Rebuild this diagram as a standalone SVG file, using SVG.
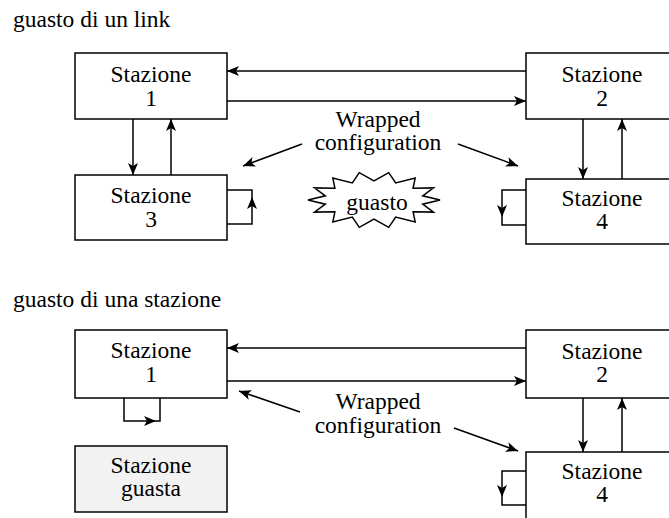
<svg xmlns="http://www.w3.org/2000/svg" width="669" height="518" viewBox="0 0 669 518">
<defs>
  <marker id="ah" viewBox="0 0 12 10" refX="12" refY="5" markerWidth="12" markerHeight="10" markerUnits="userSpaceOnUse" orient="auto">
    <path d="M0,0 L12,5 L0,10 L3,5 z" fill="#000"/>
  </marker>
</defs>

<rect width="669" height="518" fill="#fff"/>

<g font-family="Liberation Serif, Times New Roman, serif" font-size="23.5" fill="#000">
<text x="13" y="27">guasto di un link</text>
<text x="13" y="307">guasto di una stazione</text>
</g>

<g fill="#fff" stroke="#000" stroke-width="1.5">
<g id="s1-stazione1">
  <rect x="75" y="53" width="152" height="66"/>
  <g font-family="Liberation Serif, Times New Roman, serif" font-size="23.5" fill="#000" stroke="none" text-anchor="middle">
    <text x="151" y="82">Stazione</text>
    <text x="151" y="106">1</text>
  </g>
</g>
<g id="s1-stazione2">
  <rect x="526" y="53" width="152" height="66"/>
  <g font-family="Liberation Serif, Times New Roman, serif" font-size="23.5" fill="#000" stroke="none" text-anchor="middle">
    <text x="602" y="82">Stazione</text>
    <text x="602" y="106">2</text>
  </g>
</g>
<g id="s1-stazione3">
  <rect x="75" y="175" width="152" height="65"/>
  <g font-family="Liberation Serif, Times New Roman, serif" font-size="23.5" fill="#000" stroke="none" text-anchor="middle">
    <text x="151" y="203">Stazione</text>
    <text x="151" y="227">3</text>
  </g>
</g>
<g id="s1-stazione4">
  <rect x="526" y="179" width="152" height="65"/>
  <g font-family="Liberation Serif, Times New Roman, serif" font-size="23.5" fill="#000" stroke="none" text-anchor="middle">
    <text x="602" y="206">Stazione</text>
    <text x="602" y="229">4</text>
  </g>
</g>
<g id="s1-guasto">
  <polygon points="440,200 422.7,204.2 433.5,212.1 413.1,211.8 415.2,221.9 395.7,217.1 388.7,227.3 374,219 359.3,227.3 352.3,217.1 332.8,221.9 334.9,211.8 314.5,212.1 325.3,204.2 308,200 325.3,195.8 314.5,187.9 334.9,188.2 332.8,178.1 352.3,182.9 359.3,172.7 374,181 388.7,172.7 395.7,182.9 415.2,178.1 413.1,188.2 433.5,187.9 422.7,195.8"/>
  <text x="377" y="210" text-anchor="middle" font-family="Liberation Serif, Times New Roman, serif" font-size="23.5" fill="#000" stroke="none">guasto</text>
</g>
<g id="s1-label" font-family="Liberation Serif, Times New Roman, serif" font-size="23.5" fill="#000" stroke="none" text-anchor="middle">
  <text x="378" y="127">Wrapped</text>
  <text x="378" y="150">configuration</text>
</g>

<g id="s2-stazione1">
  <rect x="75" y="330" width="152" height="68"/>
  <g font-family="Liberation Serif, Times New Roman, serif" font-size="23.5" fill="#000" stroke="none" text-anchor="middle">
    <text x="151" y="358">Stazione</text>
    <text x="151" y="382">1</text>
  </g>
</g>
<g id="s2-stazione2">
  <rect x="526" y="330" width="152" height="68"/>
  <g font-family="Liberation Serif, Times New Roman, serif" font-size="23.5" fill="#000" stroke="none" text-anchor="middle">
    <text x="602" y="359">Stazione</text>
    <text x="602" y="382">2</text>
  </g>
</g>
<g id="s2-guasta">
  <rect x="75" y="446" width="152" height="66" fill="#f2f2f2"/>
  <g font-family="Liberation Serif, Times New Roman, serif" font-size="23.5" fill="#000" stroke="none" text-anchor="middle">
    <text x="151" y="473">Stazione</text>
    <text x="151" y="496">guasta</text>
  </g>
</g>
<g id="s2-stazione4">
  <rect x="526" y="452" width="152" height="80"/>
  <g font-family="Liberation Serif, Times New Roman, serif" font-size="23.5" fill="#000" stroke="none" text-anchor="middle">
    <text x="602" y="479">Stazione</text>
    <text x="602" y="502">4</text>
  </g>
</g>
<g id="s2-label" font-family="Liberation Serif, Times New Roman, serif" font-size="23.5" fill="#000" stroke="none" text-anchor="middle">
  <text x="378" y="409">Wrapped</text>
  <text x="378" y="433">configuration</text>
</g>
</g>

<g id="connectors" fill="none" stroke="#000" stroke-width="1.5">
  <path d="M526,71 H227" marker-end="url(#ah)"/>
  <path d="M227,101 H526" marker-end="url(#ah)"/>
  <path d="M133,119 V175" marker-end="url(#ah)"/>
  <path d="M171,175 V119" marker-end="url(#ah)"/>
  <path d="M227,224 H252 V197" marker-end="url(#ah)"/>
  <path d="M252,197 V190 H227"/>
  <path d="M583,119 V179" marker-end="url(#ah)"/>
  <path d="M622,179 V119" marker-end="url(#ah)"/>
  <path d="M526,190 H502 V217" marker-end="url(#ah)"/>
  <path d="M502,217 V225 H526"/>
  <path d="M302,144 L243,166" marker-end="url(#ah)"/>
  <path d="M458,144 L518,166" marker-end="url(#ah)"/>
  <path d="M526,348 H227" marker-end="url(#ah)"/>
  <path d="M227,381 H526" marker-end="url(#ah)"/>
  <path d="M124,398 V421 H156" marker-end="url(#ah)"/>
  <path d="M156,421 H160 V398"/>
  <path d="M583,398 V452" marker-end="url(#ah)"/>
  <path d="M622,452 V398" marker-end="url(#ah)"/>
  <path d="M526,471 H502 V497" marker-end="url(#ah)"/>
  <path d="M502,497 V505 H526"/>
  <path d="M300,412 L239,391" marker-end="url(#ah)"/>
  <path d="M454,428 L518,451" marker-end="url(#ah)"/>
</g>
</svg>
